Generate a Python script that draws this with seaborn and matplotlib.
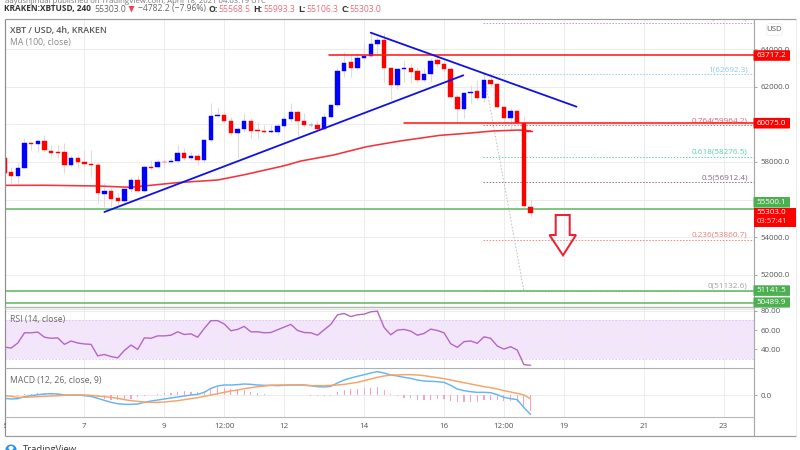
import matplotlib
matplotlib.use("Agg")
import matplotlib.pyplot as plt
from matplotlib.patches import Polygon, FancyBboxPatch, Rectangle, Ellipse
from matplotlib.transforms import Bbox
import numpy as np
import pandas as pd
import seaborn as sns

opens = [58195,57448,57270,57697,59000,58970,59120,58585,58550,58515,
         57840,58230,57980,57890,57840,56310,56435,56062,55920,56541,
         57020,56452,57751,57715,58017,58000,58053,58497,58230,58337,
         58088,59155,60453,60490,60204,59529,59742,60204,59706,59671,
         59582,59617,59920,60276,60666,60186,59973,59990,59777,60382,
         61022,62871,63333,63013,63547,63671,64311,64507,62995,62089,
         62942,63031,62836,62355,62693,63422,63209,62942,61449,60844,
         61662,61770,61431,62391,62142,60915,60329,60720,60062,55585]
closes = [57430,57270,57697,58995,58970,59120,58620,58495,58495,57840,
          58230,57980,57870,57820,56328,56435,56044,55920,56541,57020,
          56452,57751,57697,58017,58000,58053,58497,58230,58337,58088,
          59155,60453,60507,60186,59529,59742,60204,59653,59653,59582,
          59635,59920,60276,60666,60168,59973,59990,59777,60382,61022,
          62871,63298,63013,63547,63654,64311,64507,63013,62089,62942,
          63013,62818,62355,62693,63404,63209,62942,61449,60844,61662,
          61751,61431,62391,62142,60915,60329,60720,60062,55652,55303]
highs = [58284,57751,57928,59262,59084,59173,59440,58906,58906,58995,
         58373,58373,58640,58640,57928,56862,56684,56328,56595,57217,
         57306,57840,58106,58142,58142,58195,58906,58728,58551,58462,
         59208,61129,60951,60684,60418,59795,60595,60329,60151,59973,
         59973,60062,60507,61129,60773,60595,60151,60240,60595,61040,
         62996,63885,63707,63796,64329,64863,64685,64863,63084,62996,
         63440,63262,63084,62996,63529,63707,63529,63084,61573,61698,
         62107,62373,62640,62640,62195,60951,60862,60773,60382,56008]
lows = [57395,56862,56862,57662,58640,58551,58551,58284,58195,57395,
        57751,57662,57751,57217,55795,55617,55617,55706,55884,56417,
        56417,56417,57573,57662,57840,57928,57928,58106,58106,57840,
        58017,59084,60418,60098,59440,58195,59617,59262,59262,59529,
        59529,59440,59795,60151,59386,59884,59884,59706,59706,60329,
        60951,62551,62551,62907,63440,63618,63618,62284,61307,61875,
        62284,62195,62195,62284,62284,63084,62818,61395,60151,60329,
        61129,61307,61218,62018,60862,60062,59706,59973,55617,55084]
ma_bars = [0,6,14,19,22,26,32,36,42,44.5,49.4,54.4,59.4,65.4,69.4,73.4,77.4,79]
ma_vals = [56755,56760,56720,56650,56760,56900,57039,57320,57800,58052,58372,
           58817,59120,59422,59529,59653,59706,59660]
rsi = [42.4,41.4,46.6,57.2,57.2,57.9,52.6,51.5,51.9,45.2,48.7,46.6,45.6,45.2,33.3,
       34.7,32.6,31.2,38.9,44.5,40,51.9,51.5,54,54,54.7,58.2,55.4,56.1,52.6,
       61.7,69.8,69.8,66.3,59.3,60.7,63.8,58.2,58.2,57.2,57.5,60.3,63.1,65.9,59.6,
       57.5,57.2,54.7,60.3,65.9,75.8,77.2,74,75.8,76.5,78.9,79.6,62.8,55.1,60,
       60.7,58.9,54.7,56.5,61,59.6,57.2,45.9,42.1,48,48.7,46.3,53,51.5,43.5,
       40.3,42.8,39.3,24.2,23.5]
macd = [-10,-12,-11,-5,-2,1,3,4,3,0,0,0,-2,-4,-10,-16,-22,-26,-28,-28,-27,-22,-18,-15,-12,-9,-6,-3,0,2,
        8,20,27,30,30,31,33,32,30,29,29,28,29,30,30,30,28,25,24,26,36,45,51,56,61,66,70,66,60,57,
        53,50,45,42,41,40,38,29,18,13,10,8,8,7,1,-7,-11,-14,-38,-58]
signal = [-2,-4,-7,-7,-6,-5,-4,-3,-2,-1,0,0,0,-1,-3,-5,-7,-10,-14,-17,-19,-21,-22,-22,-21,-19,-17,-14,-11,-8,
          -4,0,4,8,12,15,19,22,25,27,29,30,30,30,30,29,28,28,28,29,30,32,35,38,43,48,53,57,60,60,
          61,61,60,58,55,52,49,45,41,37,33,29,25,22,18,13,9,5,0,-11]
hist = [-5,-4,-3,2,4,6,7,7,5,1,0.5,0,-2,-3,-7,-11,-15,-16,-14,-11,-5,-2,1,3,5,7,10,11,10,9,
        12,20,23,22,18,16,14,10,5,2,0.5,-1,-1,0.5,0.5,-1,-2,-4,-3,-2,8,14,17,19,22,22,23,15,3,-2,
        -8,-10,-15,-16,-14,-12,-13,-18,-22,-22,-21,-20,-16,-14,-15,-18,-18,-20,-36,-48]
bars = list(range(len(closes)))
fib_labels = ["1.236(65420.4)","1(62692.3)","0.764(59964.2)","0.618(58276.5)","0.5(56912.4)","0.236(53860.7)","0(51132.6)"]
fib_levels = [65420.4,62692.3,59964.2,58276.5,56912.4,53860.7,51132.6]
fib_colors = ["#b98be0","#8cc8ec","#e0606a","#55d3a5","#8d6680","#ef7b7b","#a0a0a0"]
tick_bars = [0,12,24,33,42,54,66,75,84,96,108]
tick_names = ["6","7","9","12:00","12","14","16","12:00","19","21","23"]
price_ticks = [52000,54000,56000,58000,60000,62000,64000]
price_tick_labels = ["52000.0","54000.0","","58000.0","","62000.0","64000.0"]
hlines_red = [63717.2,60075.0]
hlines_green = [55500.1,51141.5,50489.9]

sns.set_theme(style="white")
plt.rcParams["font.family"] = ["Open Sans", "DejaVu Sans"]
W, H = 800, 450
fig = plt.figure(figsize=(8, 4.5), dpi=100, facecolor="white")

def panel(top, bottom, left=4.5, right=753.5):
    return fig.add_axes([left/W, 1-bottom/H, (right-left)/W, (bottom-top)/H])

XL = (0.0, (753.5-4.4)/6.66)
ax = panel(18.5, 307)
ar = panel(307.5, 368.3)
am = panel(368.5, 417.3)
for a in (ax, ar, am):
    a.set_xlim(*XL)
    a.set_xticks(tick_bars)
    a.grid(True, axis="both", color="#ececec", lw=0.7)
    a.set_axisbelow(True)
    a.tick_params(left=False, bottom=False, labelleft=False, labelbottom=False,
                  right=True, labelright=True, length=2.5, width=0.6, color="#999999",
                  labelsize=5.7, labelcolor="#555555", pad=2.5)
    for s in a.spines.values():
        s.set_visible(False)

# price panel
ax.set_ylim(50267, 65653)
ax.set_yticks(price_ticks)
ax.set_yticklabels(price_tick_labels)
o, c = np.array(opens), np.array(closes)
ups = c >= o
ax.vlines(bars, lows, highs, color="#dcdcdc", lw=0.8, zorder=2)
ax.bar(np.array(bars)[ups], (c-o)[ups], bottom=o[ups], width=0.66, color="#0000ff",
       edgecolor="#0000ff", lw=0.3, zorder=3)
ax.bar(np.array(bars)[~ups], (c-o)[~ups], bottom=o[~ups], width=0.66, color="#ff0000",
       edgecolor="#ff0000", lw=0.3, zorder=3)
sns.lineplot(data=pd.DataFrame({"b": ma_bars, "v": ma_vals}), x="b", y="v", ax=ax,
             color="#f4333c", lw=1.15, zorder=2.5, legend=False)
for lvl, lab, col in zip(fib_levels, fib_labels, fib_colors):
    ax.plot([71.86, XL[1]], [lvl, lvl], color=col, lw=0.65, ls=(0, (1.6, 1.8)), zorder=1.5)
    ax.text(111.6, lvl+235, lab, color=col, fontsize=5.85, ha="right", va="center", clip_on=True, zorder=4)
ax.plot([72, 78], [62692.3, 51132.6], color="#bdbdbd", lw=0.7, ls=(0, (1.6, 1.8)), zorder=1.6)
for lvl, st in zip(hlines_red, [48.8, 60.0]):
    ax.plot([st, XL[1]], [lvl, lvl], color="#ff1a1a", lw=1.15, zorder=4)
ax.plot([78, 79.2], [59660, 59660], color="#ff1a1a", lw=1.0, zorder=4)
for lvl in hlines_green:
    ax.axhline(lvl, color="#5cb85c", lw=1.1, zorder=2.7)
ax.plot([15, 68.9], [55333, 62624], color="#1010e8", lw=1.3, zorder=5)
ax.plot([55, 85.9], [64896, 60950], color="#1010e8", lw=1.3, zorder=5)

# RSI panel
ar.set_ylim(20.4, 83.4)
ar.set_yticks([40, 60, 80])
ar.set_yticklabels(["40.00", "60.00", "80.00"])
ar.axhspan(30, 70, color="#f3e6fc", zorder=0.5, lw=0)
for lvl in (30, 70):
    ar.axhline(lvl, color="#d9c8e8", lw=0.6, ls=(0, (2, 2)), zorder=1)
sns.lineplot(data=pd.DataFrame({"b": bars, "v": rsi}), x="b", y="v", ax=ar,
             color="#b565c9", lw=1.0, legend=False, zorder=3)

# MACD panel
am.set_ylim(-66.9, 79.5)
am.set_yticks([0])
am.set_yticklabels(["0.0"])
am.bar(bars, hist, width=0.17, color="#ff9fc4", lw=0, zorder=2)
sns.lineplot(data=pd.DataFrame({"b": bars, "v": macd}), x="b", y="v", ax=am,
             color="#64b5f6", lw=1.05, legend=False, zorder=3)
sns.lineplot(data=pd.DataFrame({"b": bars, "v": signal}), x="b", y="v", ax=am,
             color="#f7a366", lw=1.05, legend=False, zorder=4)
for a in (ax, ar, am):
    a.set_xlabel(""); a.set_ylabel(""); a.set_xlim(*XL)

# overlay in pixel space: frame, header, badges
ov = fig.add_axes([0, 0, 1, 1], facecolor="none")
ov.set_xlim(0, W); ov.set_ylim(H, 0); ov.axis("off")

def hl(y, x0=4.5, x1=795.7, col="#9a9a9a", lw=0.85):
    ov.plot([x0, x1], [y, y], color=col, lw=lw, solid_capstyle="butt")
def vl(x, y0=18.5, y1=436, col="#8e8e8e", lw=0.85):
    ov.plot([x, x], [y0, y1], color=col, lw=lw, solid_capstyle="butt")

hl(18.5); hl(436)
vl(4.5); vl(753.5, col="#a8a8a8"); vl(795.7, col="#e4e4e4", lw=0.5)
hl(307, x1=753.5, col="#b5b5b5", lw=1.0); hl(308.6, x1=753.5, col="#e2e2e2", lw=0.7)
hl(368.4, x1=753.5, col="#b0b0b0", lw=0.8); hl(417.3, x1=753.5, col="#b8b8b8", lw=0.8)

# clipped author line at the very top
ov.text(5, 3.2, "aayushjindal published on TradingView.com, April 18, 2021 04:03:19 UTC",
        fontsize=5.6, color="#777777", va="baseline", clip_on=True)

def t(x, y, s, col="#555555", size=6.2, weight="normal", ha="left", va="center", **k):
    return ov.text(x, y, s, color=col, fontsize=size, fontweight=weight, ha=ha, va=va, **k)

t(4.5, 9, "KRAKEN:XBTUSD, 240", col="#333333", size=5.95, weight="bold")
t(94, 9, "55303.0", col="#666666", size=6.2)
ov.add_patch(Polygon([[128.5, 6], [134.5, 6], [131.5, 12.5]], closed=True, color="#f0444c", lw=0))
t(138, 9, "−4782.2 (−7.96%)", col="#666666", size=6.2)
for x, lab, xv, val in [(208.5, "O:", 218, "55568.5"), (253.5, "H:", 263, "55993.3"),
                        (298, "L:", 306, "55106.3"), (341, "C:", 349, "55303.0")]:
    t(x, 9, lab, col="#333333", size=6.2, weight="bold")
    t(xv, 9, val, col="#f26d76", size=6.2)

t(10, 30, "XBT / USD, 4h, KRAKEN", col="#555555", size=6.4, weight="semibold")
t(10, 42, "MA (100, close)", col="#888888", size=6.2)
t(10, 319.5, "RSI (14, close)", col="#666666", size=6.2)
t(10, 380, "MACD (12, 26, close, 9)", col="#666666", size=6.2)

# time axis
for b, name in zip(tick_bars, tick_names):
    px = 4.4 + 6.66*b
    lab = t(px, 426.3, name, ha="center", size=5.8)
    if b == 0:
        lab.set_clip_box(Bbox([[3.5, 0], [5.5, 450]]))
        lab.set_clip_on(True)

# fall arrow
ov.add_patch(Polygon([[555.7, 215], [569.7, 215], [569.7, 235], [576, 235], [563, 255.3],
                      [549.5, 235], [555.7, 235]], closed=True, fill=False,
                     edgecolor="#ee2233", lw=1.45, joinstyle="miter"))

# USD button
ov.add_patch(FancyBboxPatch((767, 24), 15, 11, boxstyle="round,pad=0.3,rounding_size=2",
                            fc="white", ec="#eeeeee", lw=0.6))
t(774.5, 29.5, "USD", ha="center", size=5.6)

def badge(y, s, col, x1=790, h=10.6, dy=0):
    ov.add_patch(FancyBboxPatch((753.5, y-h/2+dy), x1-753.5, h, boxstyle="round,pad=0,rounding_size=0.8",
                                fc=col, ec="none", zorder=6))
    ov.text(771.5, y+dy, s, color="white", fontsize=5.8, ha="center", va="center", zorder=7)

badge(55.5, "63717.2", "#ff0000")
badge(123.2, "60075.0", "#ff0000")
badge(202.3, "55500.1", "#4caf50")
ov.add_patch(Rectangle((753.5, 207.7), 42.2, 19.5, fc="#ff0000", ec="none", zorder=6))
ov.text(771.5, 212.8, "55303.0", color="white", fontsize=5.8, ha="center", va="center", zorder=7)
ov.text(771.5, 221.5, "03:57:41", color="#ffd6d6", fontsize=5.6, ha="center", va="center", zorder=7)
badge(290.6, "51141.5", "#4caf50")
badge(302.5, "50489.9", "#4caf50", h=10.2)

# TradingView mark, cut by the image edge
ov.add_patch(Ellipse((11, 449.5), 11, 10, fc="#2196f3", ec="none"))
ov.add_patch(Ellipse((11, 448), 5, 4, fc="white", ec="none"))
ov.text(23, 452.5, "TradingView", color="#333333", fontsize=6.8, va="baseline", clip_on=True)

fig.savefig("out.png", dpi=100)
